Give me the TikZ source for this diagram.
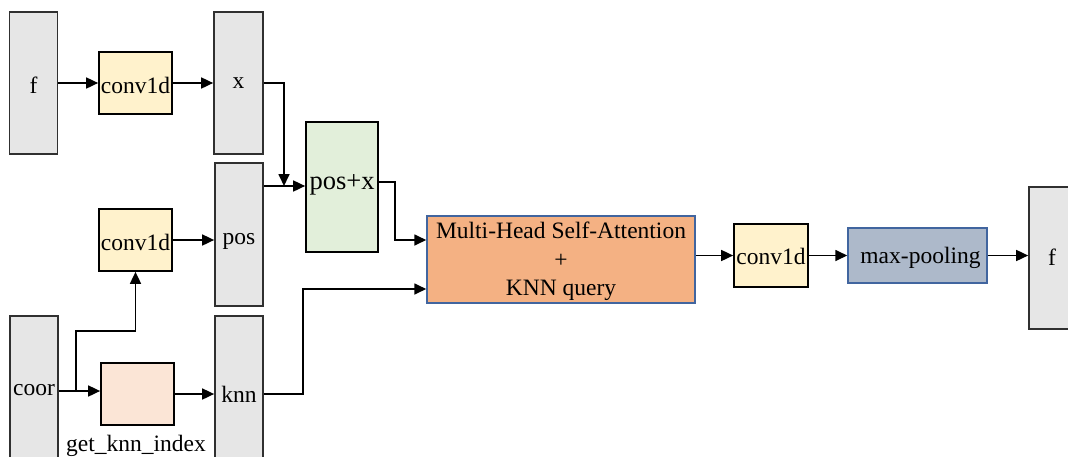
\documentclass[tikz,border=0pt]{standalone}
\usepackage{fontspec}
\setmainfont{Liberation Serif}
\usetikzlibrary{arrows.meta,calc}
\definecolor{featgray}{HTML}{E6E6E6}
\definecolor{convfill}{HTML}{FFF2CC}
\definecolor{sumfill}{HTML}{E2EFDA}
\definecolor{knnfill}{HTML}{FBE5D6}
\definecolor{attfill}{HTML}{F4B183}
\definecolor{poolfill}{HTML}{ADB9CA}
\definecolor{blueedge}{HTML}{41659F}
\definecolor{darkedge}{HTML}{303030}
\begin{document}
\begin{tikzpicture}[x=1pt,y=-1pt,
  every node/.style={font=\fontsize{23.5}{28.5}\selectfont, inner sep=0pt},
  feat/.style={draw=darkedge, line width=1.7pt, fill=featgray, rectangle},
  convbox/.style={draw=black, line width=1.7pt, fill=convfill, rectangle},
  sumbox/.style={draw=black, line width=1.7pt, fill=sumfill, rectangle},
  knnbox/.style={draw=black, line width=1.7pt, fill=knnfill, rectangle},
  attbox/.style={draw=blueedge, line width=1.5pt, fill=attfill, rectangle, align=center},
  poolbox/.style={draw=blueedge, line width=1.5pt, fill=poolfill, rectangle},
  arr/.style={draw=black, line width=1.7pt, -{Triangle[length=12pt,width=11pt]}}
]
\clip (0,0) rectangle (1068,456);
\fill[white] (0,0) rectangle (1068,456);

% feature maps and blocks
\node[feat, minimum width=48, minimum height=142] (fin) at (33.5,83) {};
\node (finl) at (33.5,85) {f};
\node[convbox, minimum width=73, minimum height=62] (c1) at (135.5,83) {};
\node (c1l) at (135.5,85) {conv1d};
\node[feat, minimum width=49, minimum height=142] (xb) at (238.5,83) {};
\node (xbl) at (238.5,83) {x};

\node[convbox, minimum width=73, minimum height=62] (c2) at (135.5,240) {};
\node (c2l) at (135.5,242) {conv1d};
\node[feat, minimum width=48, minimum height=143] (pos) at (239,234.5) {};
\node (posl) at (239,241) {pos};

\node[feat, minimum width=48, minimum height=148] (coor) at (34,390) {};
\node (coorl) at (34,390) {coor};
\node[knnbox, minimum width=73, minimum height=62] (gk) at (137.5,394) {};
\node[anchor=base] (gkl) at (136,451) {get\_knn\_index};
\node[feat, minimum width=48, minimum height=156] (knn) at (239,394) {};
\node (knnl) at (239,394) {knn};

\node[sumbox, minimum width=72, minimum height=130] (posx) at (342,187) {};
\node[font=\fontsize{26.5}{30}\selectfont] (posxl) at (342,185) {pos+x};

\node[attbox, minimum width=268, minimum height=87] (mhsa) at (561,259.5) {};
\node[align=center] (mhsal) at (561,261.5) {Multi-Head Self-Attention\\+\\KNN query};
\node[convbox, minimum width=74, minimum height=63] (c3) at (771,255.5) {};
\node (c3l) at (771,256) {conv1d};
\node[poolbox, minimum width=139, minimum height=55] (mp) at (917.5,255.5) {};
\node (mpl) at (920.5,258) {max-pooling};
\node[feat, minimum width=48, minimum height=142] (fout) at (1053,258) {};
\node (foutl) at (1052,257) {f};

% routing points
\coordinate (join) at (284,186);
\coordinate (split) at (76,391);
\coordinate (up) at (135.5,331);
\coordinate (kbend) at (303,289);
\coordinate (pbend) at (395,240);

% connectors
\draw[arr] (fin.east) -- (c1.west);
\draw[arr] (c1.east) -- (xb.west);
\draw[arr] (xb.east) -| (join);
\draw[arr] (pos.east |- join) -- (join -| posx.west);
\draw[arr] (c2.east) -- (c2.east -| pos.west);
\draw[arr] (coor.east |- split) -- (split -| gk.west);
\draw[arr] (split) |- (up) -- (c2.south);
\draw[arr] (gk.east) -- (gk.east -| knn.west);
\draw[arr] (knn.east) -| (kbend) -- (kbend -| mhsa.west);
\draw[arr] ($(posx.east)+(0,-5)$) -| (pbend) -- (pbend -| mhsa.west);
\draw[arr] (mhsa.east |- c3.west) -- (c3.west);
\draw[arr] (c3.east) -- (mp.west);
\draw[arr] (mp.east) -- (mp.east -| fout.west);
\end{tikzpicture}
\end{document}
